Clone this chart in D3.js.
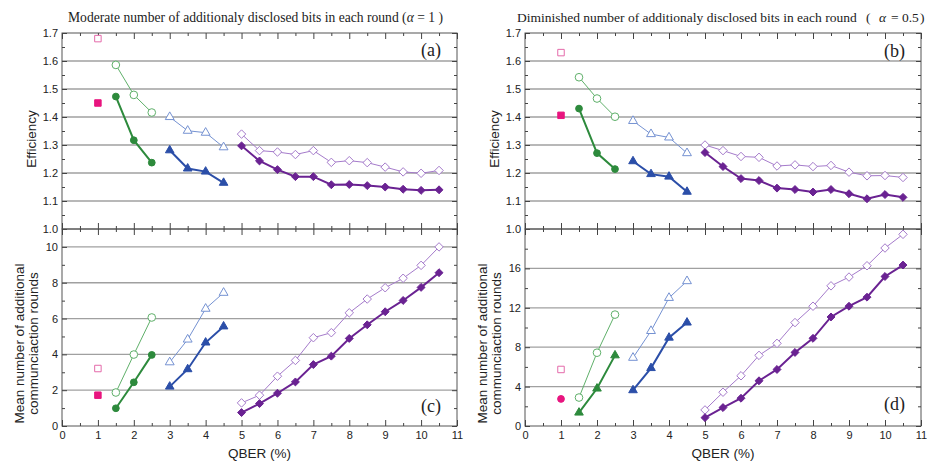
<!DOCTYPE html>
<html>
<head>
<meta charset="utf-8">
<script src="https://cdn.jsdelivr.net/npm/d3@7"></script>
<style>
  body { margin: 0; background: #fff; }
  svg { display: block; }
  .tick text { font-family: 'Liberation Sans', Arial, sans-serif; font-size: 11px; fill: #222; }
  .tick line { stroke: #444; }
  .domain { display: none; }
</style>
</head>
<body>
<script>
// QBER (%) positions for each group of points
const qberPink = [1];
const qberGreen = [1.5, 2, 2.5];
const qberBlue = [3, 3.5, 4, 4.5];
const qberPurple = [5, 5.5, 6, 6.5, 7, 7.5, 8, 8.5, 9, 9.5, 10, 10.5];

// (a) efficiency, alpha = 1
const effA_pinkOpen = [1.68];
const effA_pinkFill = [1.45];
const effA_greenOpen = [1.586, 1.479, 1.416];
const effA_greenFill = [1.473, 1.317, 1.237];
const effA_blueOpen = [1.400, 1.351, 1.344, 1.292];
const effA_blueFill = [1.281, 1.216, 1.205, 1.165];
const effA_purpleOpen = [1.339, 1.280, 1.275, 1.266, 1.280, 1.238, 1.244, 1.237, 1.221, 1.204, 1.199, 1.209];
const effA_purpleFill = [1.297, 1.243, 1.212, 1.187, 1.187, 1.158, 1.159, 1.155, 1.150, 1.142, 1.138, 1.140];

// (b) efficiency, alpha = 0.5
const effB_pinkOpen = [1.630];
const effB_pinkFill = [1.406];
const effB_greenOpen = [1.542, 1.466, 1.401];
const effB_greenFill = [1.430, 1.271, 1.214];
const effB_blueOpen = [1.386, 1.339, 1.327, 1.271];
const effB_blueFill = [1.242, 1.196, 1.187, 1.133];
const effB_purpleOpen = [1.300, 1.280, 1.259, 1.256, 1.225, 1.229, 1.223, 1.227, 1.203, 1.190, 1.191, 1.184];
const effB_purpleFill = [1.273, 1.223, 1.180, 1.173, 1.146, 1.141, 1.132, 1.141, 1.126, 1.108, 1.123, 1.113];

// (c) mean number of additional rounds, alpha = 1
const rndC_pinkOpen = [3.21];
const rndC_pinkFill = [1.72];
const rndC_greenOpen = [1.87, 3.99, 6.06];
const rndC_greenFill = [0.99, 2.44, 3.97];
const rndC_blueOpen = [3.56, 4.83, 6.55, 7.44];
const rndC_blueFill = [2.20, 3.17, 4.66, 5.56];
const rndC_purpleOpen = [1.29, 1.72, 2.78, 3.66, 4.93, 5.21, 6.32, 7.09, 7.72, 8.25, 8.97, 10.0];
const rndC_purpleFill = [0.75, 1.25, 1.83, 2.46, 3.43, 3.90, 4.89, 5.65, 6.38, 7.01, 7.74, 8.56];

// (d) mean number of additional rounds, alpha = 0.5
const rndD_pinkOpen = [5.74];
const rndD_pinkFill = [2.75];
const rndD_greenOpen = [2.89, 7.44, 11.31];
const rndD_greenFill = [1.36, 3.80, 7.17];
const rndD_blueOpen = [6.93, 9.65, 13.01, 14.71];
const rndD_blueFill = [3.63, 5.88, 8.97, 10.50];
const rndD_purpleOpen = [1.63, 3.43, 5.10, 7.17, 8.39, 10.50, 12.16, 14.23, 15.12, 16.27, 18.07, 19.46];
const rndD_purpleFill = [0.85, 1.87, 2.82, 4.59, 5.74, 7.47, 8.90, 11.07, 12.16, 13.08, 15.18, 16.34];

// tick values
const xTicks = [0, 1, 2, 3, 4, 5, 6, 7, 8, 9, 10, 11];
const effTicks = [1.0, 1.1, 1.2, 1.3, 1.4, 1.5, 1.6, 1.7];
const rndCTicks = [0, 2, 4, 6, 8, 10];
const rndDTicks = [0, 4, 8, 12, 16];

const col = {
    pink: '#e8157f', pinkLt: '#e46aaa',
    green: '#2d8a3c', greenLt: '#5fb06a',
    blue: '#2b4ea8', blueLt: '#7592d2',
    purple: '#6a2292', purpleLt: '#a57bcb'
};

const width = 927;
const height = 468;

const svg = d3.select('body').append('svg')
    .attr('width', width)
    .attr('height', height);

// marker size (d3 symbol area) by shape, open / filled
function markerSize(shape, open) {
    if (shape === d3.symbolSquare) return 42;
    if (shape === d3.symbolTriangle) return open ? 34 : 32;
    if (shape === d3.symbolDiamond2) return open ? 46 : 40;
    return open ? 46 : 36;
}

function seriesList(v, pinkFillShape, greenFillShape) {
    return [
        { xs: qberPink, ys: v[0], color: col.pinkLt, shape: d3.symbolSquare, open: true },
        { xs: qberPink, ys: v[1], color: col.pink, shape: pinkFillShape, open: false },
        { xs: qberGreen, ys: v[2], color: col.greenLt, shape: d3.symbolCircle, open: true },
        { xs: qberGreen, ys: v[3], color: col.green, shape: greenFillShape, open: false },
        { xs: qberBlue, ys: v[4], color: col.blueLt, shape: d3.symbolTriangle, open: true },
        { xs: qberBlue, ys: v[5], color: col.blue, shape: d3.symbolTriangle, open: false },
        { xs: qberPurple, ys: v[6], color: col.purpleLt, shape: d3.symbolDiamond2, open: true },
        { xs: qberPurple, ys: v[7], color: col.purple, shape: d3.symbolDiamond2, open: false }
    ];
}

function drawPanel(p) {
    const x = d3.scaleLinear().domain([0, 11]).range([p.x0, p.x1]);
    const y = d3.scaleLinear().domain(p.yDomain).range([p.y1, p.y0]);
    const g = svg.append('g');

    // horizontal grid lines
    g.append('g').selectAll('line')
        .data(p.grid)
        .join('line')
        .attr('x1', p.x0)
        .attr('x2', p.x1)
        .attr('y1', d => y(d))
        .attr('y2', d => y(d))
        .attr('stroke', '#a0a0a0')
        .attr('stroke-width', 1.3);

    // frame
    g.append('rect')
        .attr('x', p.x0)
        .attr('y', p.y0)
        .attr('width', p.x1 - p.x0)
        .attr('height', p.y1 - p.y0)
        .attr('fill', 'none')
        .attr('stroke', '#555')
        .attr('stroke-width', 1);

    const xMinor = d3.range(0.5, 11, 1);

    g.append('g')
        .attr('transform', `translate(0,${p.y1})`)
        .call(d3.axisBottom(x).tickValues(xTicks).tickSize(-6).tickPadding(5)
            .tickFormat(p.xLabels ? d3.format('d') : ''));
    g.append('g')
        .attr('transform', `translate(0,${p.y1})`)
        .call(d3.axisBottom(x).tickValues(xMinor).tickSize(-3).tickFormat(''));
    g.append('g')
        .attr('transform', `translate(0,${p.y0})`)
        .call(d3.axisTop(x).tickValues(xTicks).tickSize(-6).tickFormat(''));
    g.append('g')
        .attr('transform', `translate(0,${p.y0})`)
        .call(d3.axisTop(x).tickValues(xMinor).tickSize(-3).tickFormat(''));

    g.append('g')
        .attr('transform', `translate(${p.x0},0)`)
        .call(d3.axisLeft(y).tickValues(p.yTicks).tickSize(-5).tickPadding(4).tickFormat(p.fmt));
    g.append('g')
        .attr('transform', `translate(${p.x0},0)`)
        .call(d3.axisLeft(y).tickValues(p.yMinor).tickSize(-3).tickFormat(''));
    g.append('g')
        .attr('transform', `translate(${p.x1},0)`)
        .call(d3.axisRight(y).tickValues(p.yTicks).tickSize(-5).tickFormat(''));
    g.append('g')
        .attr('transform', `translate(${p.x1},0)`)
        .call(d3.axisRight(y).tickValues(p.yMinor).tickSize(-3).tickFormat(''));

    const line = d3.line().x(d => x(d[0])).y(d => y(d[1]));

    p.series.forEach(s => {
        const pts = s.xs.map((v, i) => [v, s.ys[i]]);
        if (pts.length > 1) {
            g.append('path')
                .datum(pts)
                .attr('d', line)
                .attr('fill', 'none')
                .attr('stroke', s.color)
                .attr('stroke-width', s.open ? 1 : 2);
        }
        g.append('g').selectAll('path')
            .data(pts)
            .join('path')
            .attr('transform', d => `translate(${x(d[0])},${y(d[1])})`)
            .attr('d', d3.symbol().type(s.shape).size(markerSize(s.shape, s.open)))
            .attr('fill', s.open ? '#fff' : s.color)
            .attr('stroke', s.color)
            .attr('stroke-width', 1);
    });

    g.append('text')
        .attr('x', p.x1 - 16)
        .attr('y', p.tagY)
        .attr('text-anchor', 'end')
        .style('font-family', "'Liberation Serif', 'Times New Roman', serif")
        .style('font-size', '18px')
        .attr('fill', '#222')
        .text(p.tag);
}

const fmt1 = d3.format('.1f');
const fmtD = d3.format('d');
const effMinor = d3.range(1.05, 1.7, 0.1);

const cols = [
    { x0: 62, x1: 457 },
    { x0: 525, x1: 921 }
];
const topY = [33, 229];
const botY = [229, 426];

const panels = [
    {
        ...cols[0], y0: topY[0], y1: topY[1], yDomain: [1.0, 1.7], yTicks: effTicks, yMinor: effMinor,
        grid: effTicks.slice(1, -1), fmt: fmt1, xLabels: false, tag: '(a)', tagY: 56,
        series: seriesList([effA_pinkOpen, effA_pinkFill, effA_greenOpen, effA_greenFill,
            effA_blueOpen, effA_blueFill, effA_purpleOpen, effA_purpleFill], d3.symbolSquare, d3.symbolCircle)
    },
    {
        ...cols[1], y0: topY[0], y1: topY[1], yDomain: [1.0, 1.7], yTicks: effTicks, yMinor: effMinor,
        grid: effTicks.slice(1, -1), fmt: fmt1, xLabels: false, tag: '(b)', tagY: 57,
        series: seriesList([effB_pinkOpen, effB_pinkFill, effB_greenOpen, effB_greenFill,
            effB_blueOpen, effB_blueFill, effB_purpleOpen, effB_purpleFill], d3.symbolSquare, d3.symbolCircle)
    },
    {
        ...cols[0], y0: botY[0], y1: botY[1], yDomain: [0, 11], yTicks: rndCTicks, yMinor: [1, 3, 5, 7, 9],
        grid: rndCTicks.slice(1), fmt: fmtD, xLabels: true, tag: '(c)', tagY: 412,
        series: seriesList([rndC_pinkOpen, rndC_pinkFill, rndC_greenOpen, rndC_greenFill,
            rndC_blueOpen, rndC_blueFill, rndC_purpleOpen, rndC_purpleFill], d3.symbolSquare, d3.symbolCircle)
    },
    {
        ...cols[1], y0: botY[0], y1: botY[1], yDomain: [0, 20], yTicks: rndDTicks, yMinor: [2, 6, 10, 14, 18],
        grid: rndDTicks.slice(1), fmt: fmtD, xLabels: true, tag: '(d)', tagY: 410,
        series: seriesList([rndD_pinkOpen, rndD_pinkFill, rndD_greenOpen, rndD_greenFill,
            rndD_blueOpen, rndD_blueFill, rndD_purpleOpen, rndD_purpleFill], d3.symbolCircle, d3.symbolTriangle)
    }
];

panels.forEach(drawPanel);

// axis titles
const sans = "'Liberation Sans', Arial, sans-serif";
const serif = "'Liberation Serif', 'Times New Roman', serif";

cols.forEach(c => {
    const bx = c.x0;
    svg.append('text')
        .attr('transform', `translate(${bx - 26},${(topY[0] + topY[1]) / 2 + 8}) rotate(-90)`)
        .attr('text-anchor', 'middle')
        .style('font-family', sans)
        .style('font-size', '13.5px')
        .attr('fill', '#222')
        .text('Efficiency');

    const mid = (botY[0] + botY[1]) / 2 + 16;
    svg.append('text')
        .attr('transform', `translate(${bx - 38},${mid}) rotate(-90)`)
        .attr('text-anchor', 'middle')
        .style('font-family', sans)
        .style('font-size', '13.5px')
        .attr('fill', '#222')
        .text('Mean number of additional');
    svg.append('text')
        .attr('transform', `translate(${bx - 24},${mid}) rotate(-90)`)
        .attr('text-anchor', 'middle')
        .style('font-family', sans)
        .style('font-size', '13.5px')
        .attr('fill', '#222')
        .text('communciaction rounds');

    svg.append('text')
        .attr('x', (c.x0 + c.x1) / 2)
        .attr('y', 458)
        .attr('text-anchor', 'middle')
        .style('font-family', sans)
        .style('font-size', '13.5px')
        .attr('fill', '#222')
        .text('QBER (%)');
});

// panel titles
const t1 = svg.append('text')
    .attr('x', 68)
    .attr('y', 22)
    .style('font-family', serif)
    .style('font-size', '13.6px')
    .attr('fill', '#222');
t1.append('tspan').text('Moderate number of additionaly disclosed bits in each round (');
t1.append('tspan').style('font-style', 'italic').text('α');
t1.append('tspan').text(' = 1 )');

const t2 = svg.append('text')
    .attr('y', 22)
    .style('font-family', serif)
    .style('font-size', '13.5px')
    .attr('fill', '#222');
t2.append('tspan').attr('x', 517).text('Diminished number of additionaly disclosed bits in each round');
t2.append('tspan').attr('x', 866).text('(');
t2.append('tspan').attr('x', 879).style('font-style', 'italic').text('α');
t2.append('tspan').attr('x', 891).text('= 0.5');
t2.append('tspan').attr('x', 920).text(')');
</script>
</body>
</html>
